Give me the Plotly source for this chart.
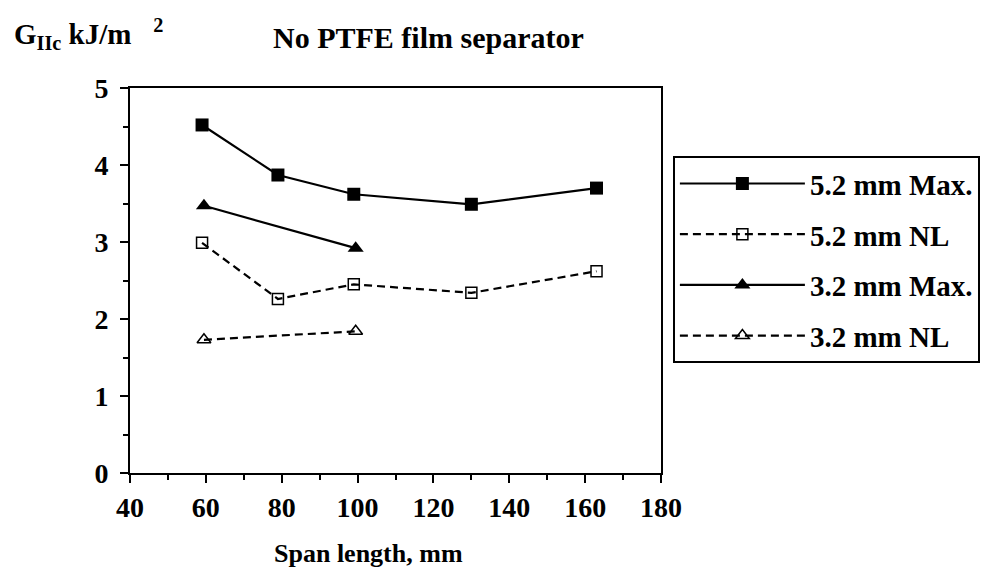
import plotly.graph_objects as go

span_52 = [59, 79, 99, 130, 163]
g_52_max = [4.52, 3.87, 3.62, 3.49, 3.70]
g_52_nl = [2.99, 2.26, 2.45, 2.34, 2.62]
span_32 = [59.5, 99.5]
g_32_max = [3.47, 2.92]
g_32_nl = [1.73, 1.84]

names = ["5.2 mm Max.", "5.2 mm NL", "3.2 mm Max.", "3.2 mm NL"]
x_ticks = [40, 60, 80, 100, 120, 140, 160, 180]
y_ticks = [0, 1, 2, 3, 4, 5]

FONT = "Liberation Serif"

fig = go.Figure()
fig.add_trace(go.Scatter(x=span_52, y=g_52_max, name=names[0], mode="lines+markers",
                         line=dict(color="black", width=2.2),
                         marker=dict(symbol="square", size=13, color="black"),
                         legendgroup="a"))
fig.add_trace(go.Scatter(x=span_52, y=g_52_nl, name=names[1], mode="lines+markers",
                         line=dict(color="black", width=2.2, dash="8px,5px"),
                         marker=dict(symbol="square-open", size=11, color="black",
                                     line=dict(width=1.5, color="black")),
                         legendgroup="b"))
fig.add_trace(go.Scatter(x=span_32, y=g_32_max, name=names[2], mode="lines+markers",
                         line=dict(color="black", width=2.2),
                         marker=dict(symbol="triangle-up", size=14, color="black"),
                         legendgroup="c"))
fig.add_trace(go.Scatter(x=span_32, y=g_32_nl, name=names[3], mode="lines+markers",
                         line=dict(color="black", width=2.2, dash="8px,5px"),
                         marker=dict(symbol="triangle-up-open", size=12, color="black",
                                     line=dict(width=1.5, color="black")),
                         legendgroup="d"))

axis_common = dict(showline=True, linecolor="black", linewidth=2, mirror=True,
                   showgrid=False, zeroline=False, ticks="outside", ticklen=8,
                   tickwidth=2, tickcolor="black",
                   tickfont=dict(family=FONT, size=28, color="black", weight="bold"))

fig.update_xaxes(range=[40, 180], tickvals=x_ticks, ticktext=[str(v) for v in x_ticks],
                 minor=dict(tickvals=[50, 70, 90, 110, 130, 150, 170], ticks="outside",
                            ticklen=5, tickwidth=2, tickcolor="black"),
                 ticklabelstandoff=0, **axis_common)
fig.update_yaxes(range=[0, 5], tickvals=y_ticks, ticktext=[str(v) for v in y_ticks],
                 minor=dict(tickvals=[0.5, 1.5, 2.5, 3.5, 4.5], ticks="outside",
                            ticklen=5, tickwidth=2, tickcolor="black"),
                 ticklabelstandoff=6, **axis_common)

fig.add_annotation(text="No PTFE film separator", xref="paper", yref="paper",
                   x=0.563, y=1.13, xanchor="center", yanchor="middle", showarrow=False,
                   font=dict(family=FONT, size=30, color="black", weight="bold"))
fig.add_annotation(text="G<sub>IIc</sub> kJ/m   <sup>2</sup>", xref="paper", yref="paper",
                   x=-0.222, y=1.14, xanchor="left", yanchor="middle", showarrow=False,
                   font=dict(family=FONT, size=29, color="black", weight="bold"))
fig.add_annotation(text="Span length, mm", xref="paper", yref="paper",
                   x=0.449, y=-0.208, xanchor="center", yanchor="middle", showarrow=False,
                   font=dict(family=FONT, size=26, color="black", weight="bold"))

fig.update_layout(
    width=984, height=574,
    margin=dict(l=122, r=327, t=80, b=109),
    paper_bgcolor="white", plot_bgcolor="white",
    showlegend=True,
    legend=dict(x=1.0224, y=0.823, xanchor="left", yanchor="top",
                bordercolor="black", borderwidth=2, bgcolor="white",
                font=dict(family=FONT, size=29, color="black", weight="bold"),
                tracegroupgap=10, itemwidth=125),
)

fig.write_html("out.html")
